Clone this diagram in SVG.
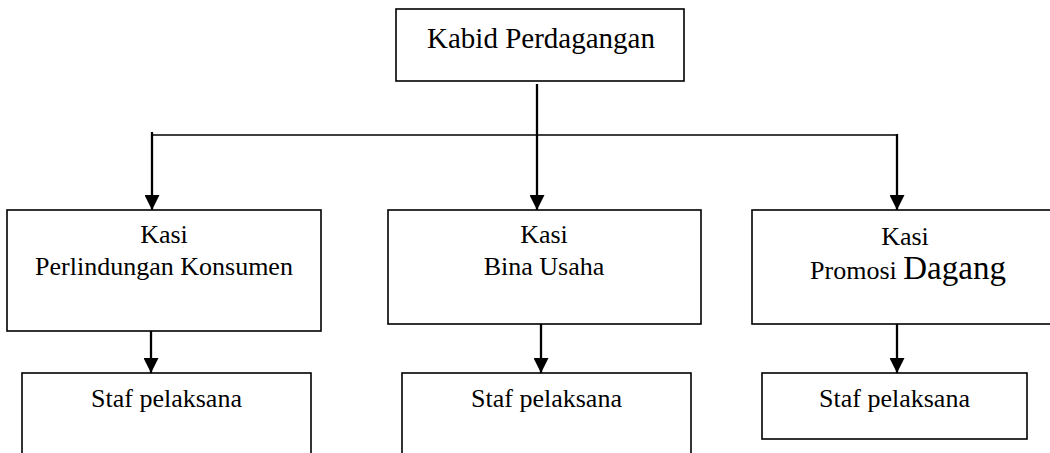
<svg xmlns="http://www.w3.org/2000/svg" width="1050" height="453" viewBox="0 0 1050 453">
<defs>
<style>
.box{fill:#fff;stroke:#000;stroke-width:1.6}
.t{font-family:"Liberation Serif","Times New Roman",serif;font-size:26px;fill:#000;text-anchor:middle}
.conn{stroke:#000;stroke-width:2.3;fill:none}
.hline{stroke:#000;stroke-width:1.7;fill:none}
</style>
<marker id="arr" markerUnits="userSpaceOnUse" markerWidth="15" markerHeight="15" refX="15" refY="7.5" orient="auto">
<path d="M0,0 L15,7.5 L0,15 z" fill="#000"/>
</marker>
</defs>
<rect width="1050" height="453" fill="#fff"/>
<g id="connectors">
<line class="conn" x1="537" y1="84" x2="537" y2="210" marker-end="url(#arr)"/>
<line class="hline" x1="152" y1="135" x2="897" y2="135"/>
<line class="conn" x1="152" y1="132" x2="152" y2="210" marker-end="url(#arr)"/>
<line class="conn" x1="897" y1="134" x2="897" y2="210" marker-end="url(#arr)"/>
<line class="conn" x1="151" y1="326" x2="151" y2="373" marker-end="url(#arr)"/>
<line class="conn" x1="541" y1="324" x2="541" y2="373" marker-end="url(#arr)"/>
<line class="conn" x1="897" y1="324" x2="897" y2="373" marker-end="url(#arr)"/>
</g>
<g id="kabid">
<rect class="box" x="396" y="9" width="288" height="72"/>
<text class="t" x="541" y="48" style="font-size:29px">Kabid Perdagangan</text>
</g>
<g id="kasi-pk">
<rect class="box" x="7" y="210" width="314" height="121"/>
<text class="t" x="164" y="243">Kasi</text>
<text class="t" x="164" y="275">Perlindungan Konsumen</text>
</g>
<g id="kasi-bu">
<rect class="box" x="388" y="210" width="313" height="114"/>
<text class="t" x="544" y="243">Kasi</text>
<text class="t" x="544" y="275">Bina Usaha</text>
</g>
<g id="kasi-pd">
<rect class="box" x="752" y="210" width="310" height="114"/>
<text class="t" x="905" y="245">Kasi</text>
<text class="t" x="908" y="279">Promosi <tspan style="font-size:33px">Dagang</tspan></text>
</g>
<g id="staf-1">
<rect class="box" x="22" y="373" width="289" height="100"/>
<text class="t" x="166.5" y="407">Staf pelaksana</text>
</g>
<g id="staf-2">
<rect class="box" x="402" y="373" width="289" height="100"/>
<text class="t" x="546.5" y="407">Staf pelaksana</text>
</g>
<g id="staf-3">
<rect class="box" x="762" y="373" width="265" height="66"/>
<text class="t" x="894.5" y="407">Staf pelaksana</text>
</g>
</svg>
